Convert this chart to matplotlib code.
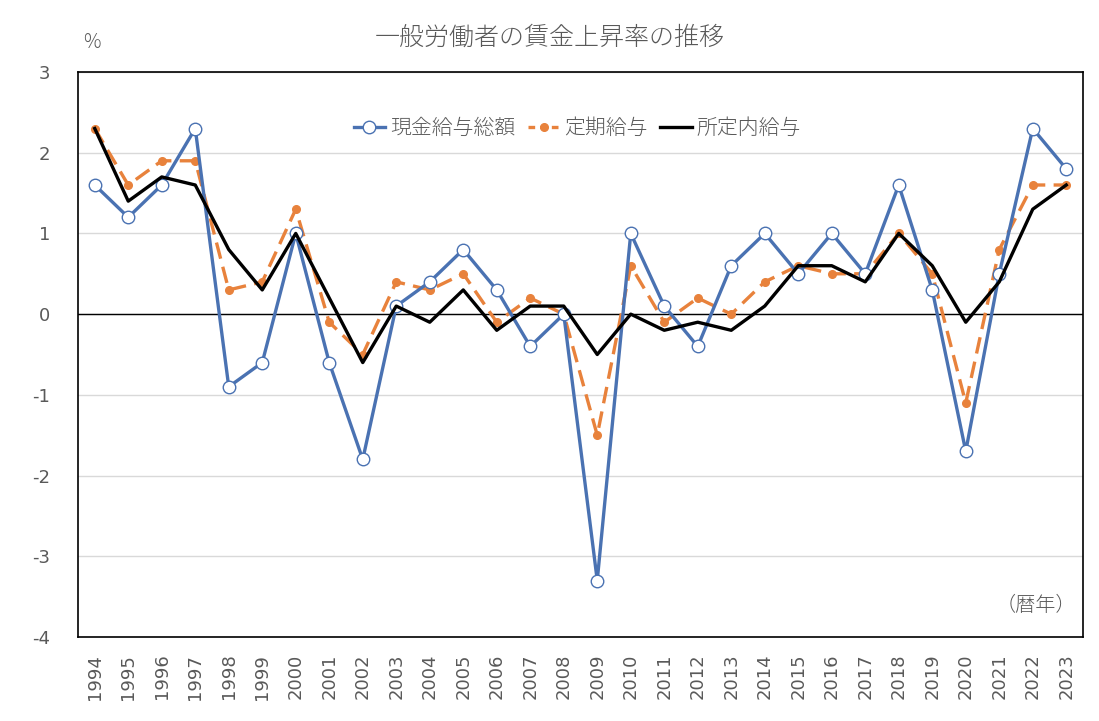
import matplotlib
matplotlib.use("Agg")
import matplotlib.pyplot as plt
from matplotlib.lines import Line2D

plt.rcParams['font.family'] = ['Noto Sans CJK JP', 'DejaVu Sans']

years = list(range(1994, 2024))
total_pay = [1.6, 1.2, 1.6, 2.3, -0.9, -0.6, 1.0, -0.6, -1.8, 0.1,
             0.4, 0.8, 0.3, -0.4, 0.0, -3.3, 1.0, 0.1, -0.4, 0.6,
             1.0, 0.5, 1.0, 0.5, 1.6, 0.3, -1.7, 0.5, 2.3, 1.8]
regular_pay = [2.3, 1.6, 1.9, 1.9, 0.3, 0.4, 1.3, -0.1, -0.5, 0.4,
               0.3, 0.5, -0.1, 0.2, 0.0, -1.5, 0.6, -0.1, 0.2, 0.0,
               0.4, 0.6, 0.5, 0.5, 1.0, 0.5, -1.1, 0.8, 1.6, 1.6]
scheduled_pay = [2.3, 1.4, 1.7, 1.6, 0.8, 0.3, 1.0, 0.2, -0.6, 0.1,
                 -0.1, 0.3, -0.2, 0.1, 0.1, -0.5, 0.0, -0.2, -0.1, -0.2,
                 0.1, 0.6, 0.6, 0.4, 1.0, 0.6, -0.1, 0.4, 1.3, 1.6]
series_names = ['現金給与総額', '定期給与', '所定内給与']
title = '一般労働者の賃金上昇率の推移'

BLUE = '#4A72B2'
ORANGE = '#E8823C'
GRAY = '#595959'

fig = plt.figure(figsize=(10.99, 7.21), dpi=100)
ax = fig.add_axes([78/1099, 1-637/721, (1083-78)/1099, (637-72)/721])

ax.plot(years, total_pay, color=BLUE, lw=2.4, marker='o', ms=9,
        mfc='white', mec=BLUE, mew=1.0, zorder=4, label=series_names[0])
ax.plot(years, regular_pay, color=ORANGE, lw=2.4, ls=(0, (5, 2.5)), marker='o', ms=5.5,
        mfc=ORANGE, mec=ORANGE, zorder=3, label=series_names[1])
ax.plot(years, scheduled_pay, color='black', lw=2.4, zorder=5, label=series_names[2])

ax.set_xlim(1993.5, 2023.5)
ax.set_ylim(-4, 3)
ax.set_yticks(range(-4, 4))
ax.set_xticks(years)
ax.set_xticklabels([str(y) for y in years], rotation=90, fontsize=13, color=GRAY,
                   family='DejaVu Sans')
ax.set_yticklabels([str(v) for v in range(-4, 4)], fontsize=13, color=GRAY,
                   family='DejaVu Sans')
ax.tick_params(axis='both', length=0)
ax.tick_params(axis='y', pad=20)
ax.tick_params(axis='x', pad=12)
ax.grid(axis='y', color='#D9D9D9', lw=1)
ax.set_axisbelow(True)
ax.axhline(0, color='black', lw=1, zorder=2)
for s in ax.spines.values():
    s.set_color('black')
    s.set_linewidth(1.2)

fig.text(550/1099, 1-37/721, title, ha='center', va='center', fontsize=18,
         color=GRAY, fontweight='light')
fig.text(92/1099, 1-42/721, '%', ha='center', va='center', fontsize=14, color=GRAY,
         fontweight='light')
ax.text(0.993, 0.055, '（暦年）', transform=ax.transAxes, ha='right', va='center',
        fontsize=14.5, color=GRAY, fontweight='light')

handles = [
    Line2D([], [], color=BLUE, lw=2.4, marker='o', ms=9, mfc='white', mec=BLUE),
    Line2D([], [], color=ORANGE, lw=2.4, ls=(0, (2, 1.5)), marker='o', ms=5.5, mfc=ORANGE, mec=ORANGE),
    Line2D([], [], color='black', lw=2.4),
]
leg = ax.legend(handles, series_names, loc='center', bbox_to_anchor=(0.497, 0.901),
                ncol=3, frameon=False, handlelength=1.5,
                handletextpad=0.25, columnspacing=0.6, labelcolor=GRAY,
                prop={'size': 15, 'weight': 'light', 'family': ['Noto Sans CJK JP']})

fig.savefig('out.png', dpi=100)
